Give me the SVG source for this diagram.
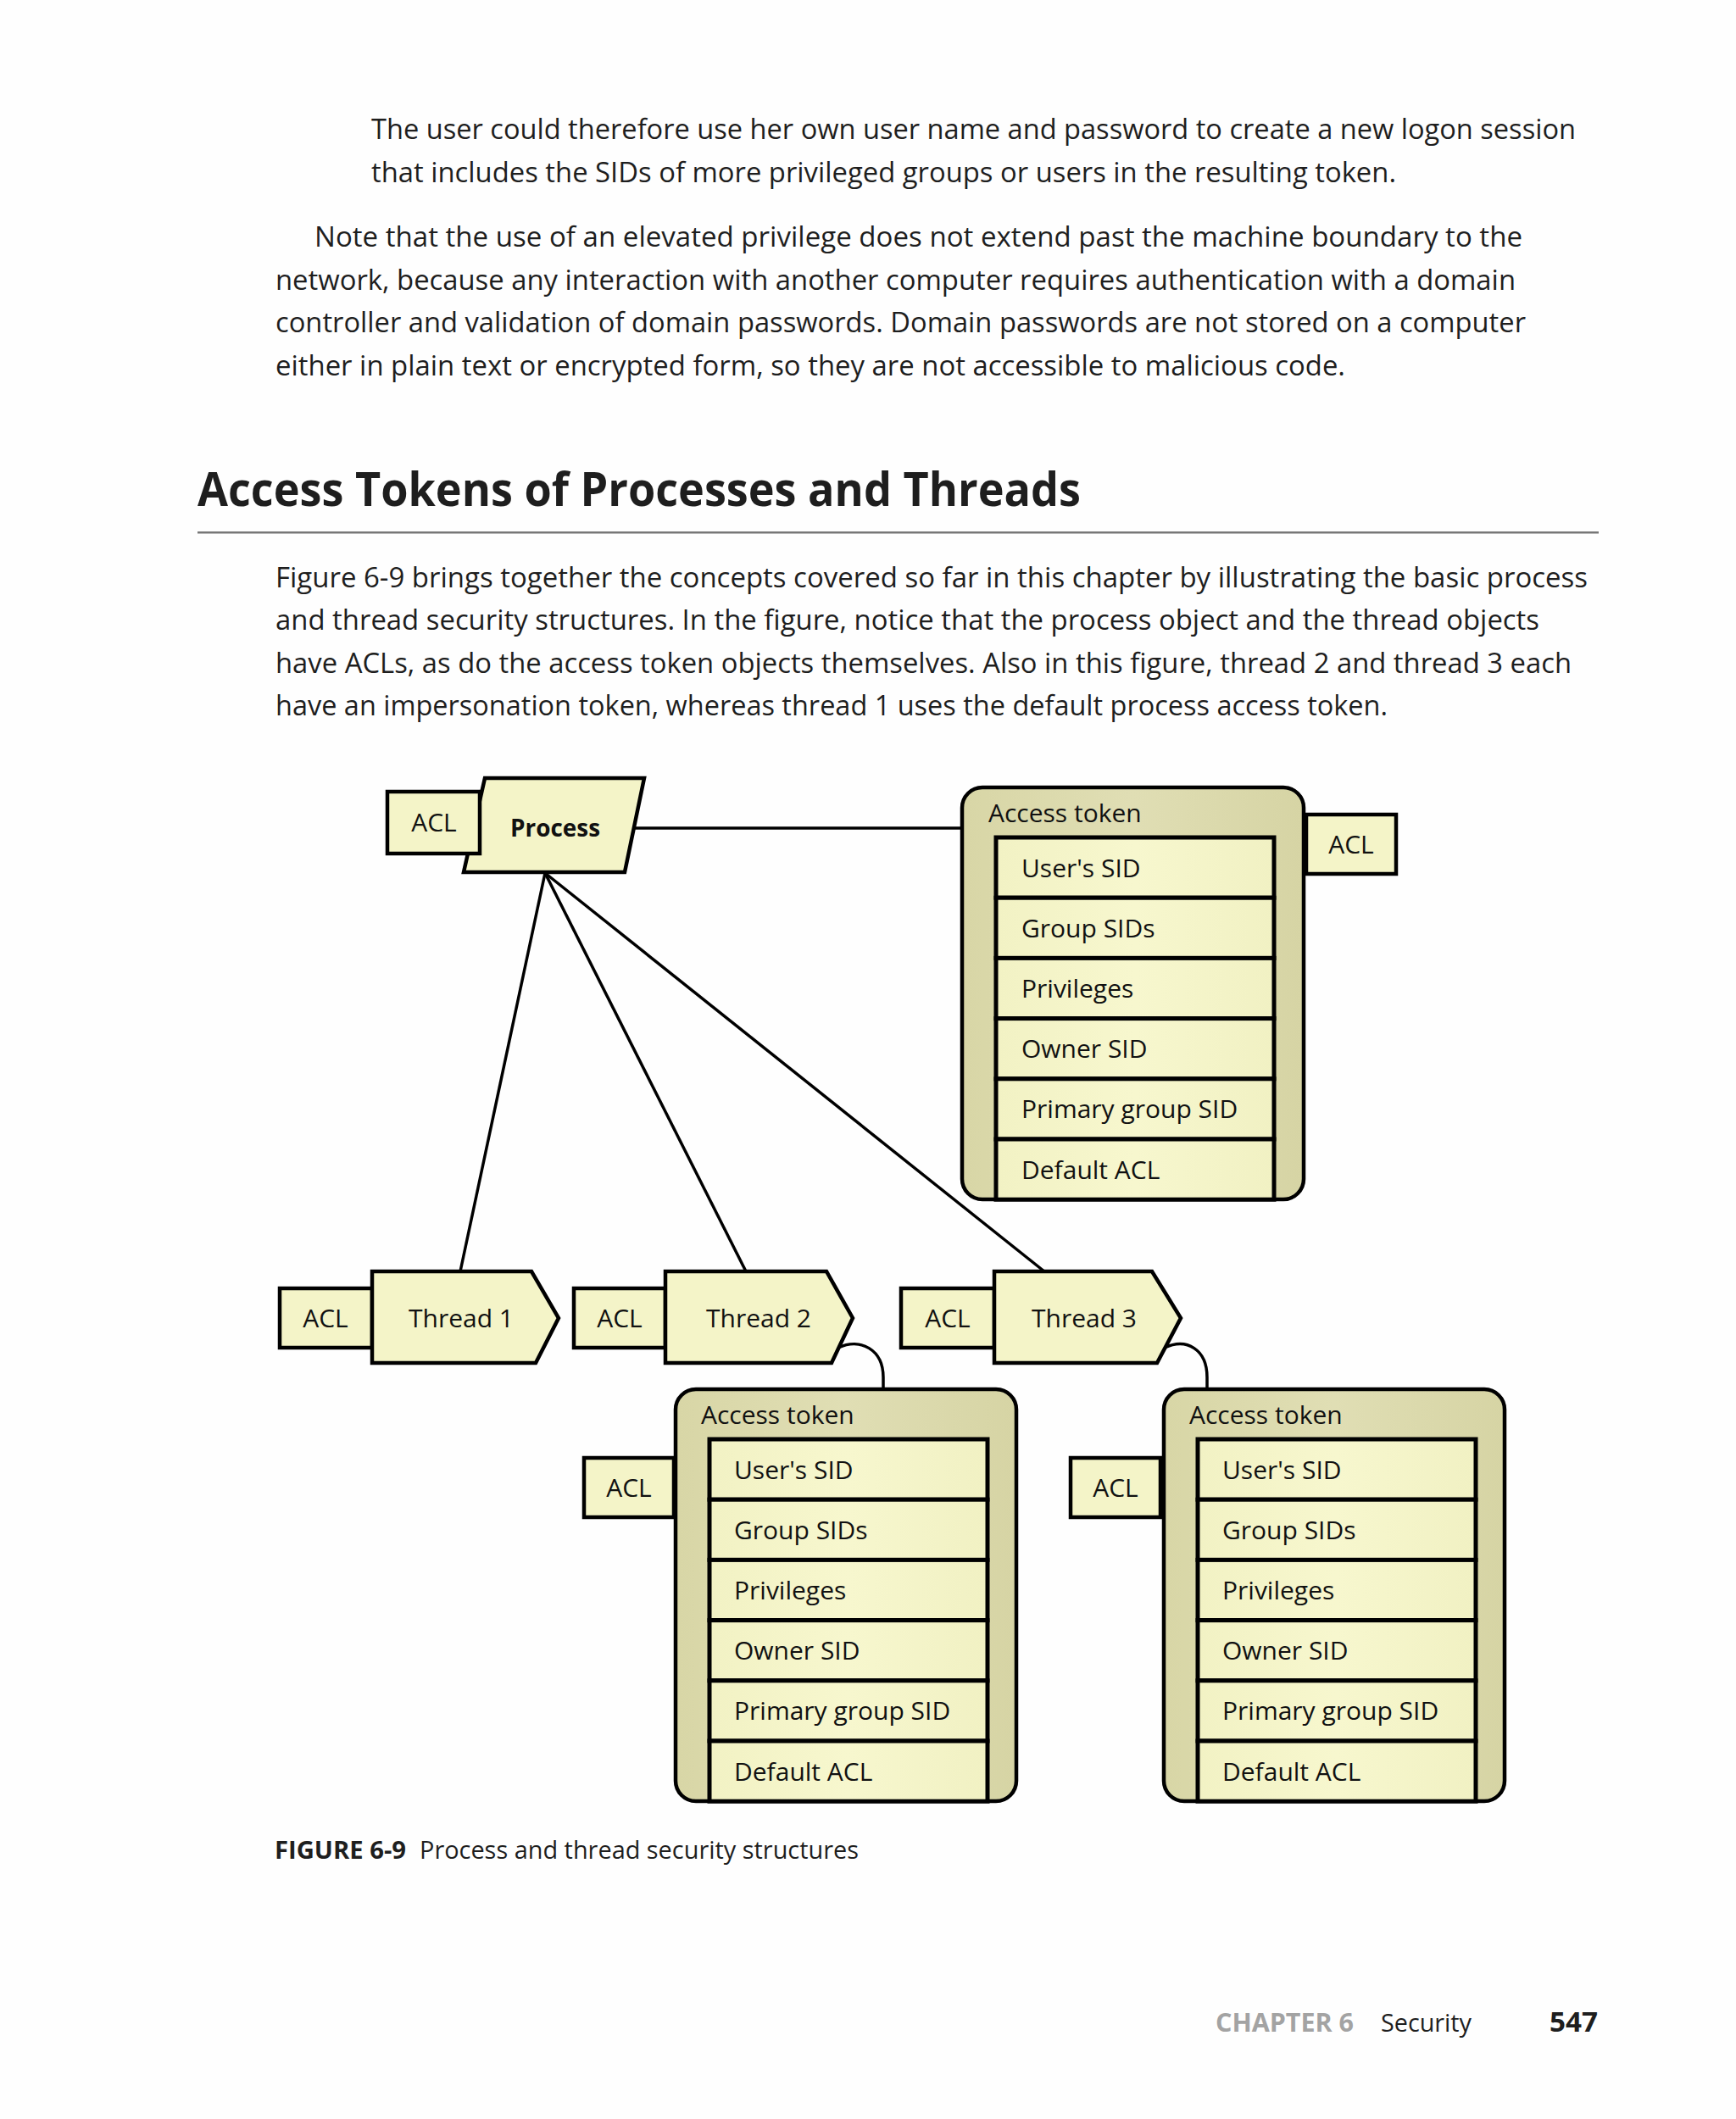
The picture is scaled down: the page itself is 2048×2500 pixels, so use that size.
<svg xmlns="http://www.w3.org/2000/svg" width="2048" height="2500" viewBox="0 0 2048 2500">
<style>
  .body { font-family: "Open Sans", "Noto Sans", sans-serif; font-size: 32px; fill: #1e1e1e; }
  .head { font-family: "Open Sans", "Noto Sans", sans-serif; font-size: 56px; font-weight: bold; fill: #1e1e1e; }
  .lbl { font-family: "Open Sans", "Noto Sans", sans-serif; font-size: 30px; fill: #111; }
  .lblc { font-family: "Open Sans", "Noto Sans", sans-serif; font-size: 30px; fill: #111; text-anchor: middle; }
  .pale { fill: #f4f4c8; stroke: #000; stroke-width: 4.5; }
  .outer { fill: url(#tan); stroke: #000; stroke-width: 4.5; }
  .row { fill: url(#paleg); stroke: #000; stroke-width: 5; }
  .conn { fill: none; stroke: #000; stroke-width: 3.5; }
</style>
<defs>
  <linearGradient id="tan" x1="0" y1="0" x2="1" y2="0">
    <stop offset="0" stop-color="#d8d6a6"/>
    <stop offset="0.5" stop-color="#e0deb4"/>
    <stop offset="1" stop-color="#d6d4a4"/>
  </linearGradient>
  <linearGradient id="paleg" x1="0" y1="0" x2="1" y2="0">
    <stop offset="0" stop-color="#f2f2c4"/>
    <stop offset="0.5" stop-color="#f7f7ce"/>
    <stop offset="1" stop-color="#f1f1c3"/>
  </linearGradient>
</defs>
<rect x="0" y="0" width="2048" height="2500" fill="#fefefe"/>

<!-- page text -->
<g id="page-text">
  <text class="body" x="438" y="164" textLength="1421" lengthAdjust="spacingAndGlyphs">The user could therefore use her own user name and password to create a new logon session</text>
  <text class="body" x="438" y="215" textLength="1209" lengthAdjust="spacingAndGlyphs">that includes the SIDs of more privileged groups or users in the resulting token.</text>
  <text class="body" x="371" y="291" textLength="1425" lengthAdjust="spacingAndGlyphs">Note that the use of an elevated privilege does not extend past the machine boundary to the</text>
  <text class="body" x="325" y="342" textLength="1463" lengthAdjust="spacingAndGlyphs">network, because any interaction with another computer requires authentication with a domain</text>
  <text class="body" x="325" y="392" textLength="1475" lengthAdjust="spacingAndGlyphs">controller and validation of domain passwords. Domain passwords are not stored on a computer</text>
  <text class="body" x="325" y="443" textLength="1262" lengthAdjust="spacingAndGlyphs">either in plain text or encrypted form, so they are not accessible to malicious code.</text>
  <text class="head" x="233" y="597" textLength="1042" lengthAdjust="spacingAndGlyphs">Access Tokens of Processes and Threads</text>
  <rect x="233" y="627" width="1653" height="2.5" fill="#777"/>
  <text class="body" x="325" y="693" textLength="1548" lengthAdjust="spacingAndGlyphs">Figure 6-9 brings together the concepts covered so far in this chapter by illustrating the basic process</text>
  <text class="body" x="325" y="743" textLength="1491" lengthAdjust="spacingAndGlyphs">and thread security structures. In the figure, notice that the process object and the thread objects</text>
  <text class="body" x="325" y="794" textLength="1529" lengthAdjust="spacingAndGlyphs">have ACLs, as do the access token objects themselves. Also in this figure, thread 2 and thread 3 each</text>
  <text class="body" x="325" y="844" textLength="1312" lengthAdjust="spacingAndGlyphs">have an impersonation token, whereas thread 1 uses the default process access token.</text>
  <text x="324" y="2193" style="font-family:'Open Sans','Noto Sans',sans-serif;font-size:29px;font-weight:bold;fill:#1e1e1e" textLength="155" lengthAdjust="spacingAndGlyphs">FIGURE 6-9</text>
  <text x="495" y="2193" style="font-family:'Open Sans','Noto Sans',sans-serif;font-size:29px;fill:#1e1e1e" textLength="518" lengthAdjust="spacingAndGlyphs">Process and thread security structures</text>
  <text x="1434" y="2397" style="font-family:'Open Sans','Noto Sans',sans-serif;font-size:30px;font-weight:bold;fill:#a3a3a3" textLength="163" lengthAdjust="spacingAndGlyphs">CHAPTER 6</text>
  <text x="1629" y="2397" style="font-family:'Open Sans','Noto Sans',sans-serif;font-size:30px;fill:#1e1e1e" textLength="107" lengthAdjust="spacingAndGlyphs">Security</text>
  <text x="1828" y="2397" style="font-family:'Open Sans','Noto Sans',sans-serif;font-size:33px;font-weight:bold;fill:#1e1e1e" textLength="57" lengthAdjust="spacingAndGlyphs">547</text>
</g>

<!-- connectors -->
<g id="connectors">
  <line class="conn" x1="747" y1="977" x2="1135" y2="977"/>
  <line class="conn" x1="643" y1="1030" x2="543" y2="1500"/>
  <line class="conn" x1="643" y1="1030" x2="880" y2="1500"/>
  <line class="conn" x1="643" y1="1030" x2="1232" y2="1500"/>
  <path class="conn" d="M 989 1590 C 1015 1578 1042 1592 1042 1625 L 1042 1639"/>
  <path class="conn" d="M 1374 1590 C 1400 1578 1424 1592 1424 1625 L 1424 1639"/>
</g>

<!-- process -->
<g id="process">
  <polygon class="pale" points="572,918 760,918 737,1029 547,1029"/>
  <text x="655" y="987" text-anchor="middle" style="font-family:'Open Sans','Noto Sans',sans-serif;font-size:29px;font-weight:bold;fill:#111" textLength="106" lengthAdjust="spacingAndGlyphs">Process</text>
</g>
<g id="process-acl">
  <rect class="pale" x="457" y="934" width="109" height="73"/>
  <text class="lblc" x="512" y="981">ACL</text>
</g>

<!-- primary access token -->
<g id="token-primary">
  <rect class="outer" x="1135" y="929" width="403" height="486" rx="24"/>
  <text class="lbl" x="1166" y="970">Access token</text>
  <rect class="row" x="1175" y="988" width="328" height="71.2"/>
  <rect class="row" x="1175" y="1059.2" width="328" height="71.2"/>
  <rect class="row" x="1175" y="1130.4" width="328" height="71.2"/>
  <rect class="row" x="1175" y="1201.6" width="328" height="71.2"/>
  <rect class="row" x="1175" y="1272.8" width="328" height="71.2"/>
  <rect class="row" x="1175" y="1344" width="328" height="71.2"/>
  <text class="lbl" x="1205" y="1034.6">User's SID</text>
  <text class="lbl" x="1205" y="1105.8">Group SIDs</text>
  <text class="lbl" x="1205" y="1177">Privileges</text>
  <text class="lbl" x="1205" y="1248.2">Owner SID</text>
  <text class="lbl" x="1205" y="1319.4">Primary group SID</text>
  <text class="lbl" x="1205" y="1390.6">Default ACL</text>
</g>
<g id="token-primary-acl">
  <rect class="pale" x="1541" y="961" width="106" height="70"/>
  <text class="lblc" x="1594" y="1007">ACL</text>
</g>

<!-- threads -->
<g id="thread1-acl">
  <rect class="pale" x="330" y="1520" width="109" height="70"/>
  <text class="lblc" x="384" y="1566">ACL</text>
</g>
<g id="thread1">
  <polygon class="pale" points="439,1500 627,1500 659,1555 632,1608 439,1608"/>
  <text class="lblc" x="544" y="1566">Thread 1</text>
</g>
<g id="thread2-acl">
  <rect class="pale" x="677" y="1520" width="108" height="70"/>
  <text class="lblc" x="731" y="1566">ACL</text>
</g>
<g id="thread2">
  <polygon class="pale" points="785,1500 975,1500 1006,1555 981,1608 785,1608"/>
  <text class="lblc" x="895" y="1566">Thread 2</text>
</g>
<g id="thread3-acl">
  <rect class="pale" x="1063" y="1520" width="110" height="70"/>
  <text class="lblc" x="1118" y="1566">ACL</text>
</g>
<g id="thread3">
  <polygon class="pale" points="1173,1500 1359,1500 1393,1555 1365,1608 1173,1608"/>
  <text class="lblc" x="1279" y="1566">Thread 3</text>
</g>

<!-- thread 2 impersonation token -->
<g id="token-thread2">
  <rect class="outer" x="797" y="1639" width="402" height="486" rx="24"/>
  <text class="lbl" x="827" y="1680">Access token</text>
  <rect class="row" x="837" y="1698" width="328" height="71.2"/>
  <rect class="row" x="837" y="1769.2" width="328" height="71.2"/>
  <rect class="row" x="837" y="1840.4" width="328" height="71.2"/>
  <rect class="row" x="837" y="1911.6" width="328" height="71.2"/>
  <rect class="row" x="837" y="1982.8" width="328" height="71.2"/>
  <rect class="row" x="837" y="2054" width="328" height="71.2"/>
  <text class="lbl" x="866" y="1744.6">User's SID</text>
  <text class="lbl" x="866" y="1815.8">Group SIDs</text>
  <text class="lbl" x="866" y="1887">Privileges</text>
  <text class="lbl" x="866" y="1958.2">Owner SID</text>
  <text class="lbl" x="866" y="2029.4">Primary group SID</text>
  <text class="lbl" x="866" y="2100.6">Default ACL</text>
</g>
<g id="token-thread2-acl">
  <rect class="pale" x="689" y="1720" width="106" height="70"/>
  <text class="lblc" x="742" y="1766">ACL</text>
</g>

<!-- thread 3 impersonation token -->
<g id="token-thread3">
  <rect class="outer" x="1373" y="1639" width="402" height="486" rx="24"/>
  <text class="lbl" x="1403" y="1680">Access token</text>
  <rect class="row" x="1413" y="1698" width="328" height="71.2"/>
  <rect class="row" x="1413" y="1769.2" width="328" height="71.2"/>
  <rect class="row" x="1413" y="1840.4" width="328" height="71.2"/>
  <rect class="row" x="1413" y="1911.6" width="328" height="71.2"/>
  <rect class="row" x="1413" y="1982.8" width="328" height="71.2"/>
  <rect class="row" x="1413" y="2054" width="328" height="71.2"/>
  <text class="lbl" x="1442" y="1744.6">User's SID</text>
  <text class="lbl" x="1442" y="1815.8">Group SIDs</text>
  <text class="lbl" x="1442" y="1887">Privileges</text>
  <text class="lbl" x="1442" y="1958.2">Owner SID</text>
  <text class="lbl" x="1442" y="2029.4">Primary group SID</text>
  <text class="lbl" x="1442" y="2100.6">Default ACL</text>
</g>
<g id="token-thread3-acl">
  <rect class="pale" x="1263" y="1720" width="106" height="70"/>
  <text class="lblc" x="1316" y="1766">ACL</text>
</g>
</svg>
